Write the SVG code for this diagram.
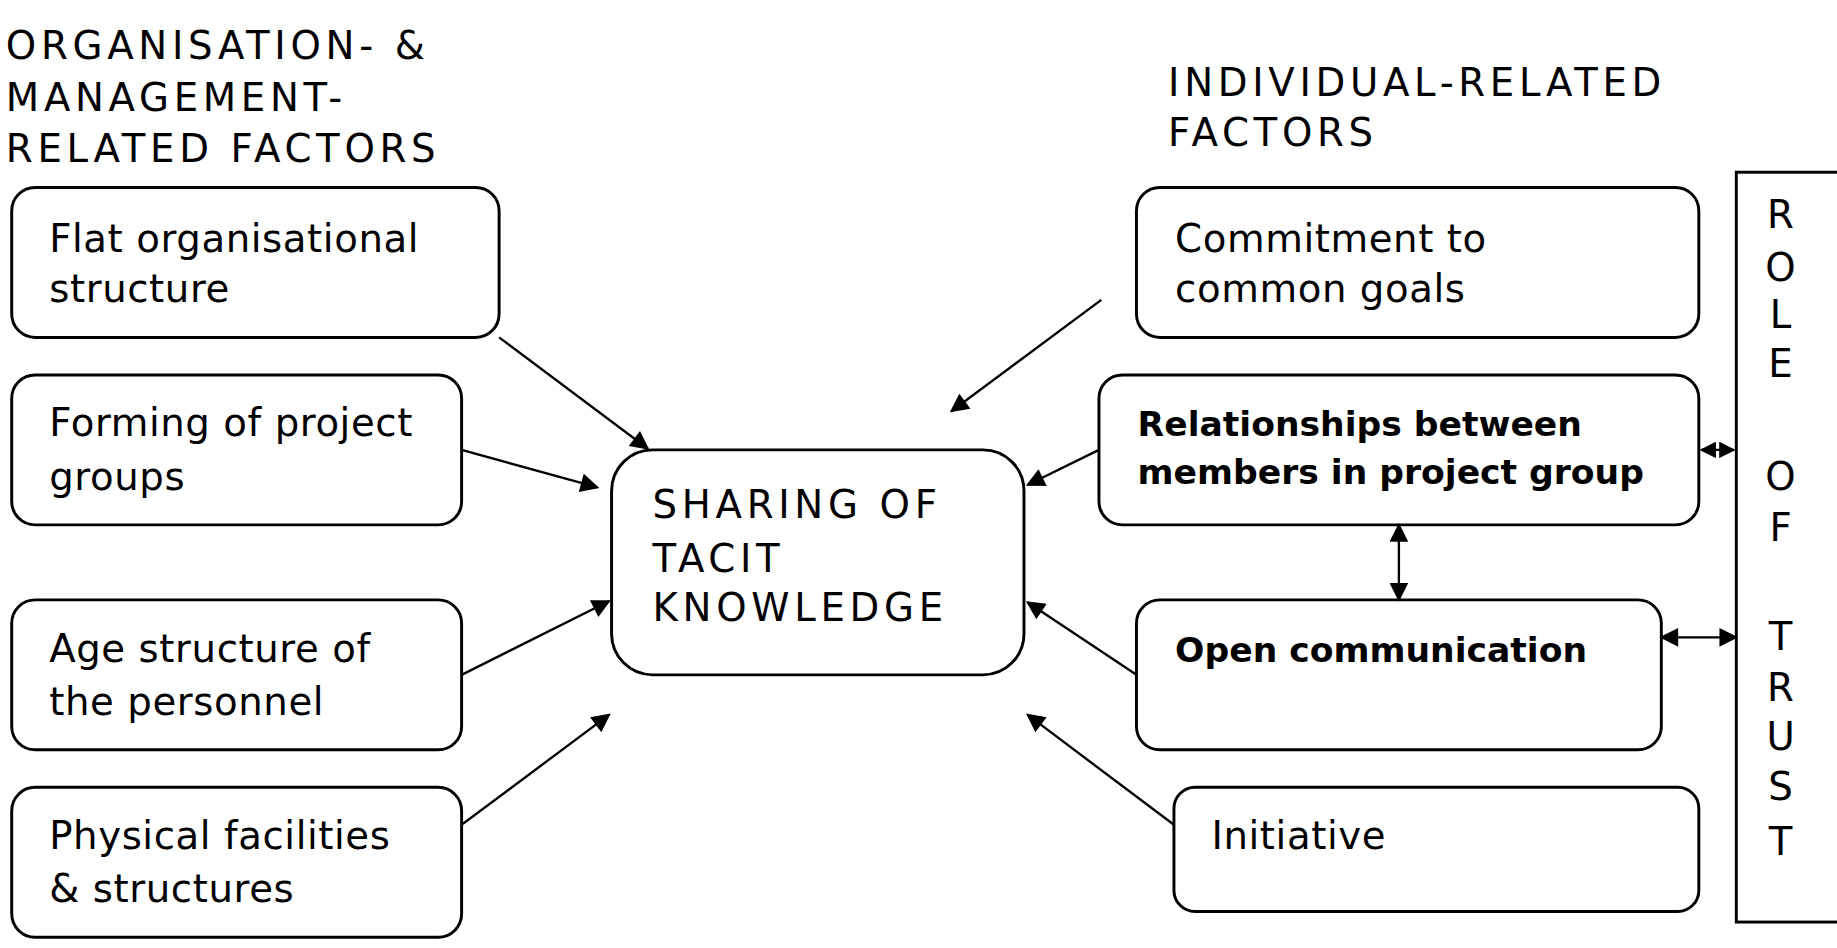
<svg xmlns="http://www.w3.org/2000/svg" width="1837" height="948" viewBox="0 0 1837 948">
<defs>
<marker id="a" viewBox="0 0 10 10" refX="9" refY="5" markerWidth="20" markerHeight="16" markerUnits="userSpaceOnUse" orient="auto-start-reverse"><path d="M0,0 L10,5 L0,10 z" fill="#000"/></marker>
<marker id="s" viewBox="0 0 10 10" refX="9" refY="5" markerWidth="14" markerHeight="14" markerUnits="userSpaceOnUse" orient="auto-start-reverse"><path d="M0,0 L10,5 L0,10 z" fill="#000"/></marker>
<style>
.b{fill:#fff;stroke:#000;stroke-width:2.5}
.t{font-family:"DejaVu Sans",sans-serif;font-size:33px;letter-spacing:0.5px;fill:#000}
.h{font-family:"DejaVu Sans",sans-serif;font-size:33px;letter-spacing:4px;fill:#000}
.bd{font-weight:bold;font-size:29.5px;letter-spacing:0}
.c line{stroke:#000;stroke-width:2}
</style>
</defs>
<rect width="1837" height="948" fill="#fff"/>
<g transform="scale(1.1716)">
<text class="h" x="5" y="50">ORGANISATION- &amp;</text>
<text class="h" x="5" y="95">MANAGEMENT-</text>
<text class="h" x="5" y="138">RELATED FACTORS</text>
<text class="h" x="997" y="82">INDIVIDUAL-RELATED</text>
<text class="h" x="997" y="125">FACTORS</text>
<g id="n1"><rect class="b" x="10" y="160" width="416" height="128" rx="20"/><text class="t" x="42" y="215">Flat organisational</text><text class="t" x="42" y="258">structure</text></g>
<g id="n2"><rect class="b" x="10" y="320" width="384" height="128" rx="20"/><text class="t" x="42" y="372">Forming of project</text><text class="t" x="42" y="418">groups</text></g>
<g id="n3"><rect class="b" x="10" y="512" width="384" height="128" rx="20"/><text class="t" x="42" y="565">Age structure of</text><text class="t" x="42" y="610">the personnel</text></g>
<g id="n4"><rect class="b" x="10" y="672" width="384" height="128" rx="20"/><text class="t" x="42" y="725">Physical facilities</text><text class="t" x="42" y="770">&amp; structures</text></g>
<g id="center"><rect class="b" x="522" y="384" width="352" height="192" rx="35"/><text class="h" x="557" y="442">SHARING OF</text><text class="h" x="557" y="488">TACIT</text><text class="h" x="557" y="530">KNOWLEDGE</text></g>
<g id="r1"><rect class="b" x="970" y="160" width="480" height="128" rx="20"/><text class="t" x="1003" y="215">Commitment to</text><text class="t" x="1003" y="258">common goals</text></g>
<g id="r2"><rect class="b" x="938" y="320" width="512" height="128" rx="20"/><text class="t bd" x="971" y="372">Relationships between</text><text class="t bd" x="971" y="413">members in project group</text></g>
<g id="r3"><rect class="b" x="970" y="512" width="448" height="128" rx="20"/><text class="t bd" x="1003" y="565">Open communication</text></g>
<g id="r4"><rect class="b" x="1002" y="672" width="448" height="106" rx="18"/><text class="t" x="1034" y="725">Initiative</text></g>
<g id="trust"><rect class="b" x="1482" y="147" width="100" height="640"/>
<g class="t" text-anchor="middle"><text x="1520" y="195">R</text><text x="1520" y="240">O</text><text x="1520" y="280">L</text><text x="1520" y="322">E</text><text x="1520" y="418">O</text><text x="1520" y="462">F</text><text x="1520" y="555">T</text><text x="1520" y="598">R</text><text x="1520" y="640">U</text><text x="1520" y="683">S</text><text x="1520" y="730">T</text></g></g>
<g class="c" id="connectors">
<line x1="426" y1="288" x2="553" y2="383" marker-end="url(#a)"/>
<line x1="394" y1="384" x2="510" y2="416" marker-end="url(#a)"/>
<line x1="394" y1="576" x2="520" y2="513" marker-end="url(#a)"/>
<line x1="394" y1="704" x2="520" y2="610" marker-end="url(#a)"/>
<line x1="940" y1="256" x2="812" y2="351" marker-end="url(#a)"/>
<line x1="938" y1="384" x2="877" y2="414" marker-end="url(#a)"/>
<line x1="970" y1="576" x2="877" y2="514" marker-end="url(#a)"/>
<line x1="1002" y1="704" x2="877" y2="610" marker-end="url(#a)"/>
<line x1="1194" y1="448" x2="1194" y2="512" marker-start="url(#a)" marker-end="url(#a)"/>
<line x1="1418" y1="544" x2="1482" y2="544" marker-start="url(#a)" marker-end="url(#a)"/>
<line x1="1452" y1="384" x2="1480" y2="384" marker-start="url(#s)" marker-end="url(#s)"/>
</g>
</g>
</svg>
